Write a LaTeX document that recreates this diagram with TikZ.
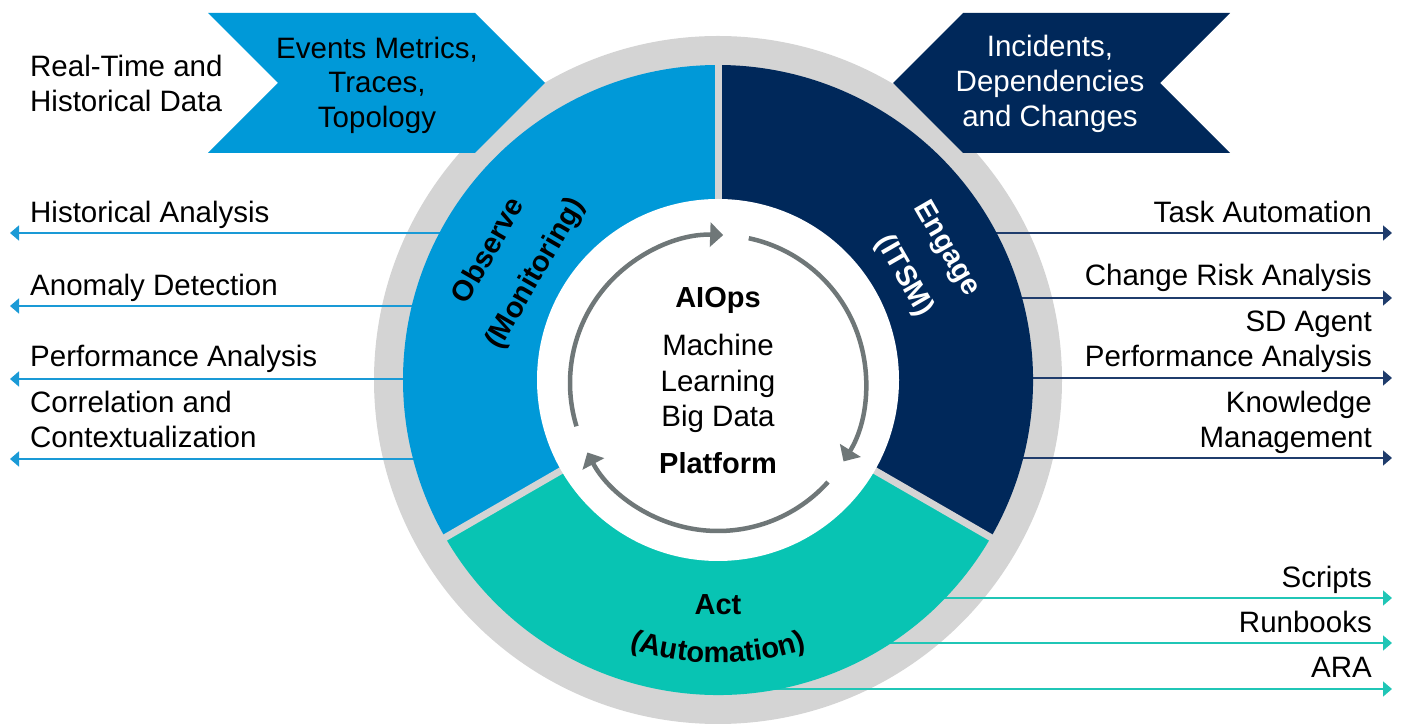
\documentclass[tikz,border=0pt]{standalone}
\usepackage{fontspec}
\setmainfont{Liberation Sans}
\usetikzlibrary{arrows.meta,decorations.text}
\definecolor{obsblue}{HTML}{0099D8}
\definecolor{engnavy}{HTML}{00285A}
\definecolor{actteal}{HTML}{08C4B3}
\definecolor{ringgray}{HTML}{D4D4D4}
\definecolor{arrowgray}{HTML}{6F7778}
\definecolor{obsline}{HTML}{1A9AD6}
\definecolor{engline}{HTML}{1F3C6C}
\definecolor{actline}{HTML}{20C6B6}
\newcommand\regfont{\fontsize{29.5}{35}\selectfont}
\newcommand\boldfont{\fontsize{29}{35}\selectfont\bfseries}
\begin{document}
\begin{tikzpicture}[x=1pt,y=1pt,
  txt/.style={inner sep=0pt, font=\regfont, text=black},
  btxt/.style={inner sep=0pt, font=\boldfont, text=black},
  outl/.style={line width=1.6pt, -{Triangle[length=9pt,width=15pt]}},
  cyc/.style={arrowgray, line width=4.5pt, -{Triangle[length=13pt,width=24pt]}},
  sep/.style={ringgray, line width=7pt},
]
\useasboundingbox (0,0) rectangle (1403,725);
\coordinate (C) at (718,345);
\coordinate (A) at (718,342);
% outer gray ring
\fill[ringgray] (C) circle[radius=344];

% outgoing lines (drawn under the coloured ring)
\foreach \n/\y in {1/492,2/419,3/346,4/266}{
  \coordinate (ls\n) at (640,\y);
  \coordinate (le\n) at (10,\y);
  \draw[outl, obsline] (ls\n) -- (le\n);
}
\foreach \n/\y in {1/492,2/427,3/347,4/267}{
  \coordinate (rs\n) at (796,\y);
  \coordinate (re\n) at (1392,\y);
  \draw[outl, engline] (rs\n) -- (re\n);
}
\foreach \n/\y in {1/127,2/82,3/36}{
  \coordinate (ts\n) at (740,\y);
  \coordinate (te\n) at (1392,\y);
  \draw[outl, actline] (ts\n) -- (te\n);
}

% banners
\fill[obsblue] (208,712) -- (475,712) -- (545,642) -- (475,572) -- (208,572) -- (278,642) -- cycle;
\fill[engnavy] (963,712) -- (1230,712) -- (1160,642) -- (1230,572) -- (963,572) -- (893,642) -- cycle;

% coloured sectors
\fill[obsblue] (C) -- ([shift={(C)}]90:315) arc[start angle=90,end angle=210,radius=315] -- cycle;
\fill[engnavy] (C) -- ([shift={(C)}]-30:315) arc[start angle=-30,end angle=90,radius=315] -- cycle;
\fill[actteal] (C) -- ([shift={(C)}]210:315) arc[start angle=210,end angle=330,radius=315] -- cycle;
\foreach \a in {90,210,330}{
  \draw[sep] (C) -- ([shift={(C)}]\a:322);
}
\fill[white] (C) circle[radius=181];

% cycle arrows
\draw[cyc] ([shift={(A)}]197:148) arc[start angle=197,end angle=88,radius=148];
\draw[cyc] ([shift={(A)}]78:148) arc[start angle=78,end angle=-32,radius=148];
\draw[cyc] ([shift={(A)}]-42:148) arc[start angle=-42,end angle=-152,radius=148];

% centre text
\node[btxt, anchor=base] (aiops) at (718,417) {AIOps};
\node[txt, anchor=base] (ml1) at (718,369) {Machine};
\node[txt, anchor=base] (ml2) at (718,333) {Learning};
\node[txt, anchor=base] (ml3) at (718,298) {Big Data};
\node[btxt, anchor=base] (platf) at (718,251) {Platform};

% segment titles
\node[btxt, rotate=60] (obs1) at (487,475) {Observe};
\node[btxt, rotate=60] (obs2) at (536,451) {(Monitoring)};
\node[btxt, text=white, rotate=-60] (eng1) at (946,476) {Engage};
\node[btxt, text=white, rotate=-60] (eng2) at (904,449) {(ITSM)};
\node[btxt, anchor=base] (act1) at (718,110) {Act};
\path[decorate, decoration={text along path, text align=center,
  text={|\boldfont|(Automation)}}]
  ([shift={(C)}]-125:283) arc[start angle=-125,end angle=-55,radius=283];

% banner texts
\node[txt, anchor=base] (b1) at (377,666) {Events Metrics,};
\node[txt, anchor=base] (b2) at (377,632) {Traces,};
\node[txt, anchor=base] (b3) at (377,597) {Topology};
\node[txt, text=white, anchor=base] (n1) at (1050,668) {Incidents,};
\node[txt, text=white, anchor=base] (n2) at (1050,633) {Dependencies};
\node[txt, text=white, anchor=base] (n3) at (1050,598) {and Changes};

% left texts
\node[txt, anchor=base west] (rt1) at (30,648) {Real-Time and};
\node[txt, anchor=base west] (rt2) at (30,613) {Historical Data};
\node[txt, anchor=base west] (h1) at (30,502) {Historical Analysis};
\node[txt, anchor=base west] (h2) at (30,429) {Anomaly Detection};
\node[txt, anchor=base west] (h3) at (30,358) {Performance Analysis};
\node[txt, anchor=base west] (h4) at (30,312) {Correlation and};
\node[txt, anchor=base west] (h5) at (30,277) {Contextualization};

% right texts
\node[txt, anchor=base east] (r1) at (1372,502) {Task Automation};
\node[txt, anchor=base east] (r2) at (1372,439) {Change Risk Analysis};
\node[txt, anchor=base east] (r3) at (1372,393) {SD Agent};
\node[txt, anchor=base east] (r4) at (1372,358) {Performance Analysis};
\node[txt, anchor=base east] (r5) at (1372,312) {Knowledge};
\node[txt, anchor=base east] (r6) at (1372,277) {Management};
\node[txt, anchor=base east] (s1) at (1372,137) {Scripts};
\node[txt, anchor=base east] (s2) at (1372,92) {Runbooks};
\node[txt, anchor=base east] (s3) at (1372,47) {ARA};
\end{tikzpicture}
\end{document}
